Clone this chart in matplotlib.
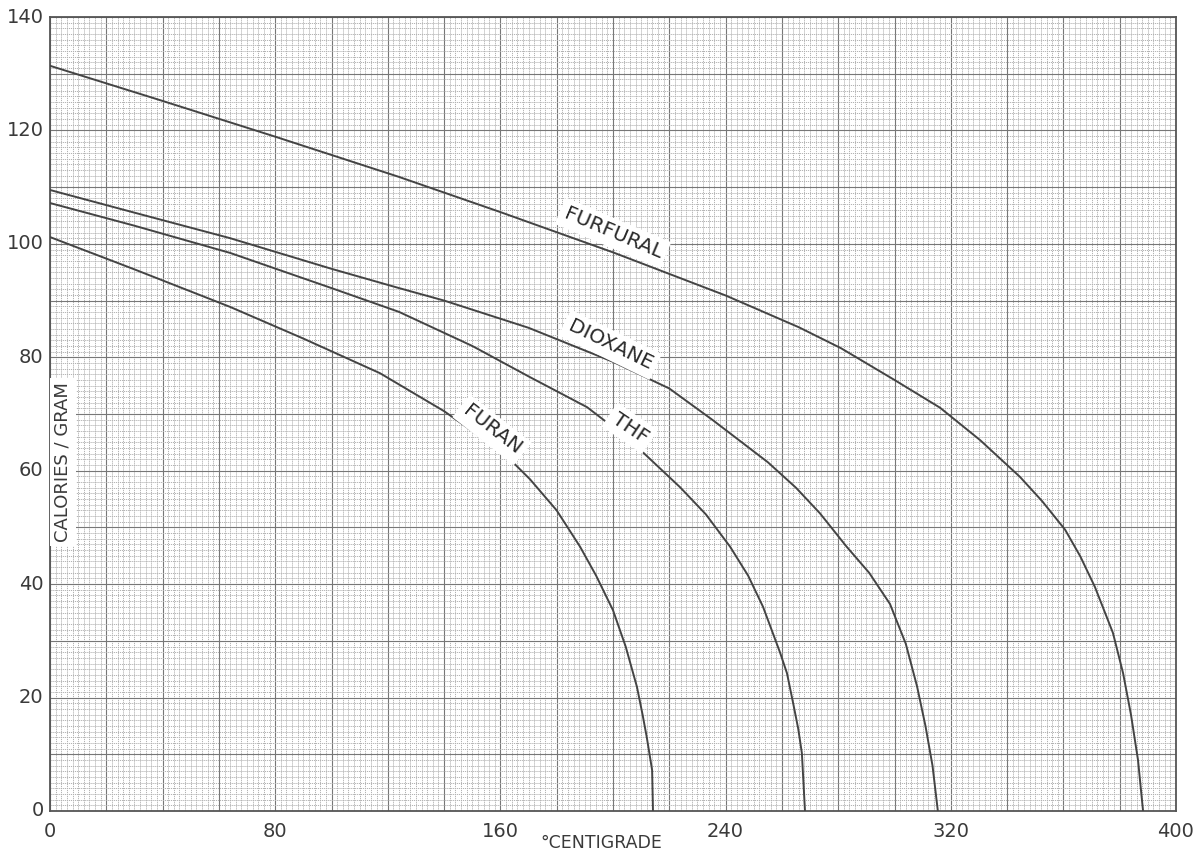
import matplotlib
matplotlib.use("Agg")
import matplotlib.pyplot as plt
from matplotlib.ticker import MultipleLocator
import numpy as np

# curves: (deg C, cal/g)
furfural_t = [0, 40, 80, 124, 160, 200, 240, 266, 281, 300, 316.2, 330.4, 344.6, 352.5,
              360.6, 366, 371.2, 377.6, 381.2, 384, 386.5, 388.3]
furfural_q = [131.4, 125.2, 118.9, 111.8, 105.6, 98.5, 90.9, 85.3, 81.6, 76.0, 71.1, 65.4, 58.9, 54.6,
              49.6, 44.9, 39.5, 31.4, 24.3, 17, 9, 0]

dioxane_t = [0, 30, 64, 100, 124, 140, 170, 200, 220, 235.5, 255, 265, 273.5, 283, 291,
             298.4, 304, 308, 311, 313.5, 315.4]
dioxane_q = [109.5, 105.5, 101.0, 95.6, 92.2, 90, 85.2, 79.2, 74.5, 68.9, 61.5, 57, 52.5, 46.6, 42,
             36.5, 29.5, 22, 15, 8, 0]

thf_t = [0, 30, 64, 100, 124, 150, 170.5, 190.8, 206, 223.8, 233, 241.6, 248, 253.3, 259.3,
         261.8, 264, 265.8, 267.1, 268.2]
thf_q = [107.2, 103.2, 98.4, 92.2, 88, 82, 76.5, 71.2, 65.4, 57.1, 52.3, 46.6, 41.5, 36.0, 28,
         24.3, 19, 14.5, 10.2, 0]

furan_t = [0, 30, 63.9, 90, 117.2, 140, 152.8, 163.4, 170.5, 180, 188.3, 194, 200, 204.5,
           208.5, 210.5, 212, 213.9, 214.2]
furan_q = [101.2, 95.5, 88.9, 83.3, 77.2, 70.5, 66, 62, 58.5, 53, 46.6, 41.5, 35.4, 29,
           21.9, 17, 13, 7.2, 0]

x_ticks = [0, 80, 160, 240, 320, 400]
y_ticks = [0, 20, 40, 60, 80, 100, 120, 140]

# label text, position (deg C, cal/g), rotation
labels = [("FURFURAL", 200, 101.9, -23),
          ("DIOXANE", 199, 82.2, -26),
          ("THF", 206, 67.5, -34),
          ("FURAN", 157, 67.2, -38)]

fig = plt.figure(figsize=(12.02, 8.59), dpi=100)
ax = fig.add_axes([50/1202, 48/859, 1126/1202, 794/859])

ax.set_xlim(0, 400)
ax.set_ylim(0, 140)

# graph paper grid
ax.xaxis.set_major_locator(MultipleLocator(20))
ax.yaxis.set_major_locator(MultipleLocator(10))
ax.xaxis.set_minor_locator(MultipleLocator(2))
ax.yaxis.set_minor_locator(MultipleLocator(1))
ax.grid(which="minor", color="#b2b2b2", lw=0.7, ls=(0, (1.2, 0.9)))
ax.grid(which="major", color="#777777", lw=0.8)
ax.set_axisbelow(True)
ax.tick_params(which="both", length=0, labelbottom=False, labelleft=False)

for sp in ax.spines.values():
    sp.set_color("#555555")
    sp.set_linewidth(1.3)

for t, q in [(furfural_t, furfural_q), (dioxane_t, dioxane_q),
             (thf_t, thf_q), (furan_t, furan_q)]:
    ax.plot(t, q, color="#444444", lw=1.4, zorder=3, solid_joinstyle="round")

for txt, x, y, rot in labels:
    ax.text(x, y, txt, rotation=rot, ha="center", va="center", fontsize=14.5,
            color="#2a2a2a", rotation_mode="anchor", zorder=4,
            bbox=dict(facecolor="white", edgecolor="none", pad=3.5))

# tick labels drawn as text so they sit like the hand lettering
for v in x_ticks:
    ax.text(v, -2.0, str(v), ha="center", va="top", fontsize=14, color="#3a3a3a")
for v in y_ticks:
    ax.text(-2.3, v, str(v), ha="right", va="center", fontsize=14, color="#3a3a3a")

ax.text(195.7, -5.7, "°CENTIGRADE", ha="center", va="center", fontsize=12.5, color="#3a3a3a")

ax.text(4.6, 61.5, "CALORIES / GRAM", rotation=90, ha="center", va="center",
        fontsize=13, color="#3a3a3a", zorder=4,
        bbox=dict(facecolor="white", edgecolor="none", pad=3))

fig.savefig("out.png", dpi=100)
